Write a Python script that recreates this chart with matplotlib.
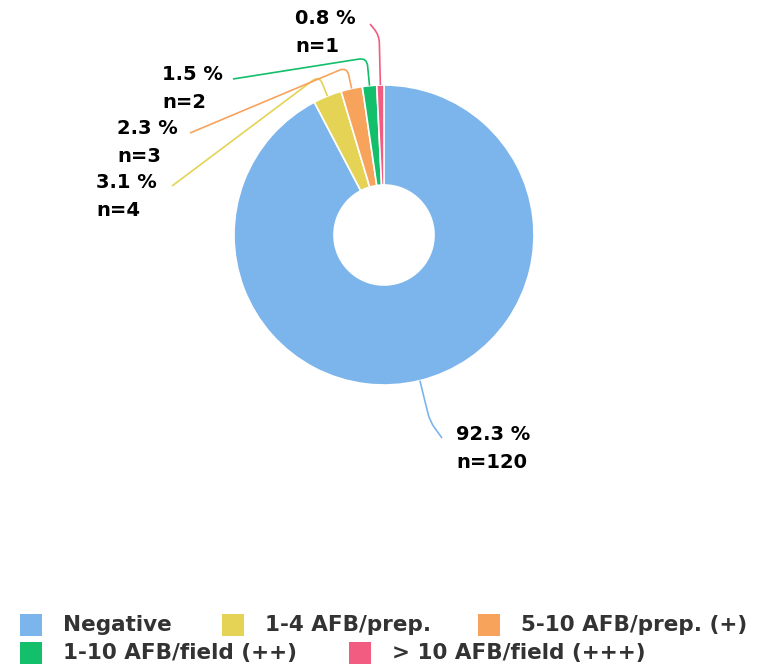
import matplotlib.pyplot as plt
from matplotlib.patches import Rectangle, PathPatch
from matplotlib.path import Path
import numpy as np

# Datos
categorias = ['Negative', '1-4 AFB/prep.', '5-10 AFB/prep. (+)', '1-10 AFB/field (++)', '> 10 AFB/field (+++)']
conteos = [120, 4, 3, 2, 1]
colores = ['#7cb5ec', '#e4d354', '#f7a35c', '#13bf6a', '#f15c80']

W, H = 758, 671
cx, cy = 384, 235
r_ext, r_int = 150, 50

fig = plt.figure(figsize=(W / 100, H / 100), dpi=100)
ax = fig.add_axes([0, 0, 1, 1])

ax.pie(conteos, colors=colores, center=(cx, cy), radius=r_ext,
       startangle=-90, counterclock=True,
       wedgeprops=dict(width=r_ext - r_int, edgecolor='white', linewidth=1.2))
ax.set_xlim(0, W)
ax.set_ylim(H, 0)
ax.set_aspect('auto')
ax.axis('off')

total = sum(conteos)
acum = np.cumsum([0] + conteos[:-1])

# posiciones de las etiquetas (x izquierda, y centro de la primera linea) y del codo del conector
pos_etiquetas = [(456, 434), (96, 182), (117, 128), (162, 74), (295, 18)]
fin_linea = [(442, 438), (172, 186), (190, 133), (233, 79), (370, 24)]
r_codo = [192, 172, 172, 178, 200]

for i, n in enumerate(conteos):
    theta = np.deg2rad(-90 + 360 * (acum[i] + n / 2) / total)
    p0 = np.array([cx + r_ext * np.cos(theta), cy + r_ext * np.sin(theta)])
    p1 = np.array([cx + r_codo[i] * np.cos(theta), cy + r_codo[i] * np.sin(theta)])
    p2 = np.array(fin_linea[i], dtype=float)
    d01 = (p1 - p0) / np.linalg.norm(p1 - p0)
    d12 = (p2 - p1) / np.linalg.norm(p2 - p1)
    a = p1 - d01 * 8
    b = p1 + d12 * 8
    camino = Path([p0, a, p1, b, p2],
                  [Path.MOVETO, Path.LINETO, Path.CURVE3, Path.CURVE3, Path.LINETO])
    ax.add_patch(PathPatch(camino, fill=False, edgecolor=colores[i], linewidth=1.2))

    lx, ly = pos_etiquetas[i]
    pct = n / total * 100
    ax.text(lx, ly, f'{pct:.1f} %', fontsize=14, fontweight='bold', color='black',
            ha='left', va='center')
    ax.text(lx, ly + 29, f'n={n}', fontsize=14, fontweight='bold', color='black',
            ha='left', va='center')

# Leyenda
pos_leyenda = [(20, 625), (222, 625), (478, 625), (20, 653), (349, 653)]
for i, cat in enumerate(categorias):
    x, y = pos_leyenda[i]
    ax.add_patch(Rectangle((x, y - 11), 22, 22, facecolor=colores[i], edgecolor='none'))
    ax.text(x + 43, y, cat, fontsize=15.5, fontweight='bold', color='#333333',
            ha='left', va='center')

fig.savefig('out.png', dpi=100)
